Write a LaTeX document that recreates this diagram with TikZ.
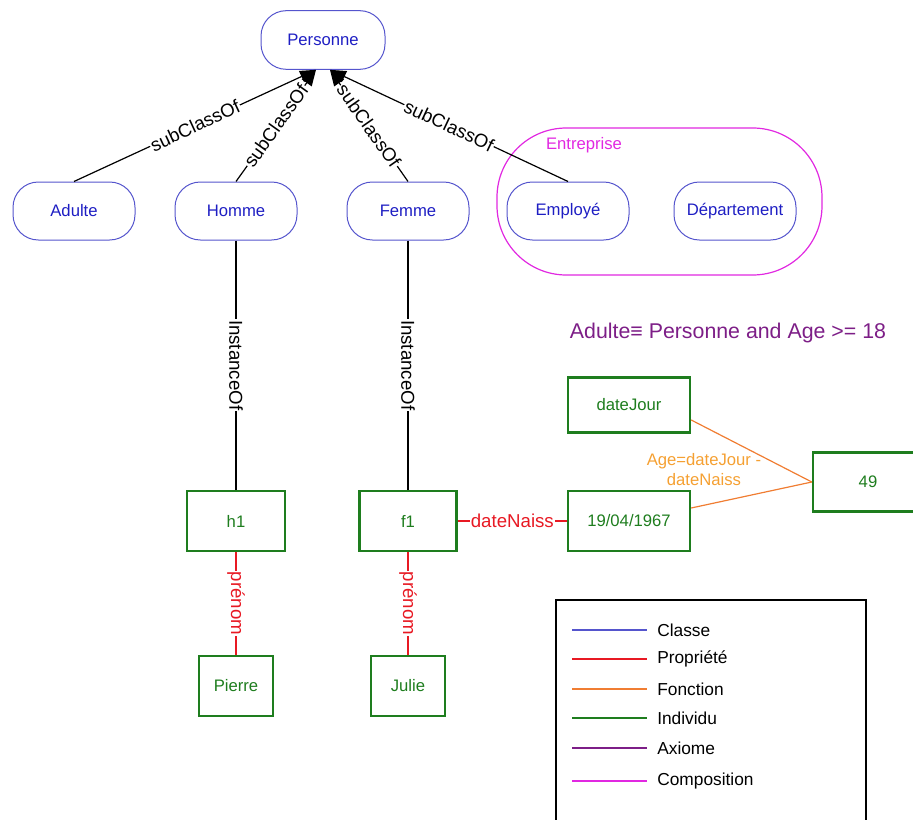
\documentclass[tikz,border=0pt]{standalone}
\usepackage{fontspec}
\setmainfont{Liberation Sans}
\usetikzlibrary{arrows.meta,positioning,calc}
\definecolor{clsblue}{RGB}{85,85,205}
\definecolor{clstext}{RGB}{30,30,195}
\definecolor{indgreen}{RGB}{30,125,30}
\definecolor{propred}{RGB}{232,25,35}
\definecolor{fctorange}{RGB}{240,125,50}
\definecolor{fcttext}{RGB}{245,160,50}
\definecolor{axpurple}{RGB}{125,30,135}
\definecolor{compmagenta}{RGB}{225,40,225}

\begin{document}
\begin{tikzpicture}[x=0.75pt,y=0.75pt,yscale=-1,xscale=1,
  classe/.style={draw=clsblue,line width=0.75pt,text=clstext,rounded corners=19pt,minimum width=91.5pt,minimum height=43.5pt,inner sep=0pt,font=\fontsize{12.5}{14}\selectfont},
  individu/.style={draw=indgreen,line width=1.8pt,text=indgreen,minimum height=45pt,inner sep=0pt,font=\fontsize{12.5}{14}\selectfont},
  subclass/.style={draw=black,line width=0.9pt,-{Triangle[length=12pt,width=9pt]}},
  instance/.style={draw=black,line width=0.9pt},
  propriete/.style={draw=propred,line width=1.1pt},
  fonction/.style={draw=fctorange,line width=0.9pt},
  lbl/.style={fill=white,inner sep=0.75pt,font=\fontsize{14}{16}\selectfont},
  legtext/.style={anchor=west,inner sep=0.75pt,font=\fontsize{13}{15}\selectfont}]
\useasboundingbox (0,0) rectangle (913,820);

%Rounded Rect (composition)
\draw [compmagenta,line width=0.9pt,rounded corners=52pt] (497,128) rectangle (822,275) ;
% Text Node
\node (entreprise) at (584,145) [text=compmagenta,inner sep=0.75pt,font=\fontsize{12.5}{14}\selectfont] {Entreprise};

% Text Node
\node (personne) at (323,40) [classe,minimum width=93pt,minimum height=44pt] {Personne};
% Text Node
\node (adulte) at (74,211) [classe] {Adulte};
% Text Node
\node (homme) at (236,211) [classe] {Homme};
% Text Node
\node (femme) at (408,211) [classe] {Femme};
% Text Node
\node (employe) at (568,211) [classe] {Employé};
% Text Node
\node (departement) at (735,211) [classe] {Département};

% Text Node
\node (h1) at (236,521) [individu,minimum width=73.5pt] {h1};
% Text Node
\node (f1) at (408,521) [individu,minimum width=73pt] {f1};
% Text Node
\node (pierre) at (236,686) [individu,minimum width=55.5pt] {Pierre};
% Text Node
\node (julie) at (408,686) [individu,minimum width=55.5pt] {Julie};
% Text Node
\node (datejour) at (629,405) [individu,minimum width=91.5pt,minimum height=41.25pt] {dateJour};
% Text Node
\node (datenaiss) at (629,521) [individu,minimum width=91.5pt] {19/04/1967};
% Text Node
\node (age) at (868,482) [individu,minimum width=82.5pt,minimum height=44pt] {49};

%Straight Lines
\draw [subclass] (adulte.north) -- node[lbl,rotate=24.9] {subClassOf} ([xshift=-5.25pt]personne.south) ;
%Straight Lines
\draw [subclass] (homme.north) -- node[lbl,rotate=54.5] {subClassOf} ([xshift=-5.25pt]personne.south) ;
%Straight Lines
\draw [subclass] (femme.north) -- node[lbl,rotate=-55.1] {subClassOf} ([xshift=5.25pt]personne.south) ;
%Straight Lines
\draw [subclass] (employe.north) -- node[lbl,rotate=-25.2] {subClassOf} ([xshift=5.25pt]personne.south) ;

%Straight Lines
\draw [instance] (homme) -- node[lbl,rotate=-90] {InstanceOf} (h1) ;
%Straight Lines
\draw [instance] (femme) -- node[lbl,rotate=-90] {InstanceOf} (f1) ;
%Straight Lines
\draw [propriete] (h1) -- node[lbl,rotate=-90,text=propred] {prénom} (pierre) ;
%Straight Lines
\draw [propriete] (f1) -- node[lbl,rotate=-90,text=propred] {prénom} (julie) ;
%Straight Lines
\draw [propriete] (f1) -- node[lbl,text=propred] {dateNaiss} (datenaiss) ;

%Straight Lines
\draw [fonction] ($(datejour.east)+(0,15)$) -- (age.west) ;
%Straight Lines
\draw [fonction] ($(datenaiss.east)+(0,-13)$) -- (age.west) ;
% Text Node
\node (agefct) at (704,470) [text=fcttext,align=center,inner sep=0.75pt,font=\fontsize{12.5}{15}\selectfont] {Age=dateJour -\\dateNaiss};

% Text Node
\node (axiome) at (728,333) [text=axpurple,inner sep=0.75pt,font=\fontsize{16}{18}\selectfont] {Adulte≡ Personne and Age >= 18};

%Shape: Rectangle (legend)
\draw [line width=1.1pt] (556,600) rectangle (866,830) ;
%Straight Lines
\draw [clsblue,line width=0.9pt] (572,630) -- (647,630) ;
\node (legclasse) at (656,630) [legtext] {Classe};
%Straight Lines
\draw [propred,line width=1.5pt] (572,659) -- (647,659) ;
\node (legprop) at (656,659) [legtext] {Propriété};
%Straight Lines
\draw [fctorange,line width=1.1pt] (572,689) -- (647,689) ;
\node (legfct) at (656,689) [legtext] {Fonction};
%Straight Lines
\draw [indgreen,line width=1.5pt] (572,718) -- (647,718) ;
\node (legind) at (656,718) [legtext] {Individu};
%Straight Lines
\draw [axpurple,line width=1.1pt] (572,748) -- (647,748) ;
\node (legax) at (656,748) [legtext] {Axiome};
%Straight Lines
\draw [compmagenta,line width=1.1pt] (572,781) -- (647,781) ;
\node (legcomp) at (656,781) [legtext] {Composition};
\end{tikzpicture}
\end{document}
